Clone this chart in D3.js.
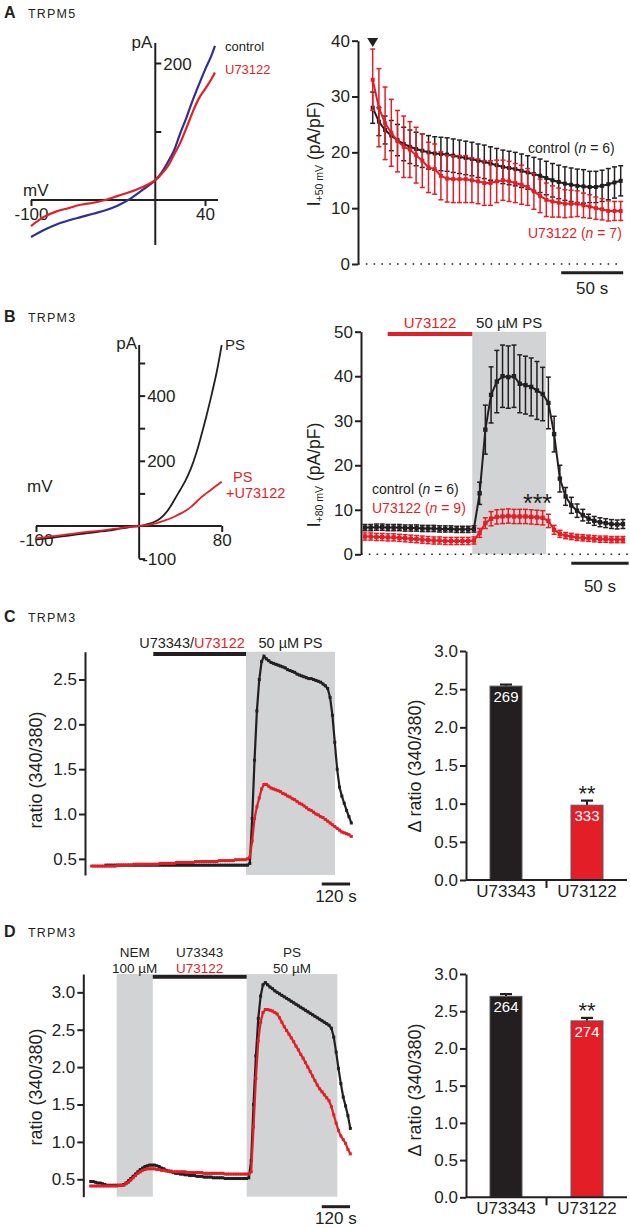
<!DOCTYPE html>
<html><head><meta charset="utf-8">
<script src="https://cdn.jsdelivr.net/npm/d3@7"></script>
<style>body{margin:0;background:#fff} svg{display:block}</style>
</head><body><svg id="fig" width="630" height="1228"></svg>
<script>
// ---------------- DATA ----------------
// Panel A left: TRPM5 I-V (mV, pA)
const ivA_mV = [-100,-90,-80,-70,-60,-50,-40,-30,-20,-10,0,5,10,15,20,25,30,35,40,45,48];
const ivA_control = [-54,-44,-36,-30,-25,-20,-15,-8,2,15,29,40,55,72,97,120,145,168,190,210,225];
const ivA_u73122  = [-38,-25,-17,-12,-7,-4,0,6,12,19,29,38,49,66,83,105,128,148,162,176,186];

// Panel A right: I+50mV time course (s, pA/pF)
const tA = [0,5,10,15,20,25,30,35,40,45,50,55,60,65,70,75,80,85,90,95,100,105,110,115,120,125,130,135,140,145,150,155,160,165,170,175,180,185,190,195,200];
const A_control = [28,25.5,24,23,22.2,21.5,21,20.6,20.3,20,19.8,19.7,19.6,19.4,19.2,19,18.8,18.5,18.3,18,17.7,17.4,17.2,17,16.7,16.4,16.1,15.8,15.4,15,14.7,14.4,14.2,14,13.9,13.8,13.8,14,14.3,14.6,14.9];
const A_controlErr = [2.8,2.5,2.5,2.7,2.8,3,3,3,3,3,3,3,3,3,3,3,3,3,3,3,3,3,3,3,3,3,3,3,3,3,3,3,3,3,3,2.8,2.8,2.8,2.8,2.8,2.7];
const A_u73122 = [33,28,25.2,23.5,22,21,20.5,19.5,18.5,17.3,17,15.8,15.3,15.2,15.2,15.2,15,14.8,14.5,14.5,14.8,15,14.8,14.5,14.2,13.8,13,12.2,11.5,11.2,11,10.8,10.8,10.8,10.5,10.3,10,9.8,9.5,9.5,9.5];
const A_u73122Err = [5.5,7,6.5,6,5.5,5.5,5,5,4.8,4.5,4.5,4.3,4.2,4.2,4.2,4.2,4,4,4,4,3.8,3.6,3.6,3.5,3.5,3.3,3.2,3,3,2.8,2.6,2.5,2.4,2.3,2.2,2.1,2,1.9,1.8,1.7,1.7];

// Panel B left: TRPM3 I-V (mV, pA)
const ivB_mV = [-100,-90,-80,-70,-60,-50,-40,-30,-20,-10,0,5,10,15,20,25,30,35,40,45,50,55,60,65,70,75,80];
const ivB_PS  = [-42,-38,-34,-30,-26,-22,-18,-14,-9,-4,0,3,7,13,22,37,58,85,112,140,175,220,275,335,400,470,555];
const ivB_PSU = [-38,-34,-30,-26,-22,-18,-15,-11,-7,-3,0,2,4,7,12,17,23,30,38,47,58,72,88,100,112,124,136];

// Panel B right: I+80mV time course (s, pA/pF)
const tB = [0,5,10,15,20,25,30,35,40,45,50,55,60,65,70,75,80,85,90,95,100,105,110,115,120,125,130,135,140,145,150,155,160,165,170,175,180,185,190,195,200,205,210,215,220,225];
const B_control = [6.0,6.0,6.1,6.1,6.0,6.0,6.0,5.9,5.9,5.9,5.8,5.8,5.8,5.7,5.7,5.7,5.6,5.6,5.6,5.7,13.7,28,35.8,38.8,40,39.8,40,38.3,38,37.6,36.8,36,34,27,17,13,11,9.8,8.8,8,7.5,7.2,7,6.8,6.7,6.8];
const B_controlErr = [0.7,0.7,0.7,0.7,0.7,0.7,0.7,0.7,0.7,0.7,0.7,0.7,0.7,0.7,0.7,0.7,0.7,0.7,0.7,0.7,2.5,5.5,6.3,7,7,7,7,6.5,6.5,6.5,6.5,6,5.8,4,3,2,1.8,1.5,1.3,1,1,1,1,1,1,1];
const B_u73122 = [4.0,4.0,3.9,3.9,3.8,3.8,3.7,3.6,3.5,3.4,3.3,3.2,3.1,3.1,3.0,3.0,3.0,3.0,3.0,3.1,4.8,7.0,8.0,8.4,8.5,8.6,8.5,8.5,8.5,8.4,8.3,8.2,7.5,5.5,4.6,4.2,4.0,3.8,3.7,3.6,3.5,3.4,3.4,3.3,3.3,3.3];
const B_u73122Err = [0.8,0.8,0.8,0.8,0.8,0.8,0.8,0.8,0.8,0.8,0.8,0.8,0.8,0.8,0.8,0.8,0.8,0.8,0.8,0.8,1,1.2,1.6,1.6,1.6,1.6,1.6,1.6,1.6,1.6,1.6,1.6,1.5,1,0.8,0.7,0.7,0.7,0.7,0.7,0.7,0.7,0.7,0.7,0.7,0.7];

// Panels C and D: Fura-2 ratio time courses (s, ratio 340/380)
const tCD = [0,10,20,30,40,50,60,70,80,90,100,110,120,130,140,150,160,170,180,190,200,210,220,230,240,250,260,270,280,290,300,310,320,330,340,350,360,370,380,390,400,410,420,430,440,450,460,470,480,490,500,510,520,530,540,550,560,570,580,590,600,610,620,630,640,650,660,670,680,690,700,710,720,730,740,750,760,770,780,790,800,810,820,830,840,850,860,870,880,890,900,910,920,930,940,950,960,970,980,990,1000,1010,1020,1030,1040,1050,1060,1070,1080,1090,1100];
const C_U73343 = [null,null,null,null,null,null,0.43,0.43,0.43,0.43,0.43,0.43,0.43,0.43,0.43,0.43,0.43,0.43,0.43,0.43,0.43,0.43,0.43,0.43,0.43,0.43,0.43,0.43,0.43,0.43,0.43,0.43,0.43,0.43,0.43,0.43,0.43,0.43,0.43,0.43,0.43,0.43,0.43,0.43,0.43,0.43,0.43,0.43,0.43,0.43,0.43,0.43,0.43,0.43,0.43,0.43,0.43,0.43,0.43,0.43,0.43,0.43,0.43,0.43,0.43,0.43,0.43,0.45,0.95,1.6,2.15,2.5,2.7,2.76,2.73,2.71,2.69,2.68,2.67,2.66,2.65,2.64,2.63,2.61,2.6,2.59,2.58,2.56,2.55,2.54,2.53,2.52,2.51,2.51,2.5,2.49,2.48,2.47,2.45,2.43,2.4,2.3,2.1,1.8,1.5,1.3,1.2,1.12,1.04,0.97,0.9];
const C_U73122 = [0.42,0.42,0.42,0.42,0.42,0.42,0.42,0.42,0.42,0.42,0.42,0.43,0.43,0.43,0.43,0.43,0.43,0.43,0.44,0.44,0.44,0.44,0.44,0.44,0.44,0.44,0.44,0.44,0.44,0.45,0.45,0.45,0.45,0.45,0.45,0.45,0.46,0.46,0.46,0.46,0.46,0.46,0.46,0.46,0.47,0.47,0.47,0.47,0.47,0.47,0.47,0.47,0.47,0.47,0.48,0.48,0.48,0.48,0.48,0.48,0.48,0.49,0.49,0.49,0.49,0.49,0.5,0.52,0.7,0.95,1.08,1.18,1.28,1.33,1.33,1.31,1.29,1.28,1.27,1.26,1.25,1.23,1.22,1.2,1.19,1.17,1.16,1.14,1.12,1.11,1.09,1.07,1.05,1.04,1.02,1.0,0.99,0.97,0.96,0.94,0.92,0.9,0.88,0.86,0.84,0.82,0.8,0.79,0.78,0.77,0.75];
const D_U73343 = [0.47,0.47,0.46,0.45,0.45,0.44,0.43,0.42,0.42,0.42,0.42,0.42,0.42,0.42,0.43,0.45,0.48,0.51,0.54,0.57,0.6,0.63,0.65,0.67,0.68,0.69,0.69,0.69,0.68,0.67,0.65,0.64,0.62,0.61,0.6,0.59,0.58,0.58,0.57,0.57,0.56,0.56,0.55,0.55,0.55,0.54,0.54,0.54,0.53,0.53,0.53,0.53,0.52,0.52,0.52,0.52,0.52,0.51,0.51,0.51,0.51,0.51,0.51,0.51,0.51,0.51,0.51,0.52,0.75,1.5,2.15,2.65,2.95,3.1,3.13,3.1,3.07,3.05,3.02,3.0,2.98,2.96,2.94,2.92,2.9,2.88,2.86,2.84,2.82,2.8,2.78,2.76,2.74,2.72,2.7,2.68,2.66,2.64,2.62,2.6,2.58,2.56,2.52,2.4,2.2,1.98,1.78,1.6,1.48,1.35,1.18];
const D_U73122 = [0.41,0.41,0.41,0.41,0.41,0.41,0.41,0.41,0.41,0.41,0.41,0.41,0.42,0.42,0.42,0.44,0.46,0.49,0.52,0.55,0.58,0.6,0.62,0.63,0.64,0.64,0.64,0.64,0.63,0.63,0.62,0.62,0.61,0.61,0.61,0.6,0.6,0.6,0.6,0.6,0.6,0.59,0.59,0.59,0.59,0.59,0.59,0.59,0.58,0.58,0.58,0.58,0.58,0.58,0.58,0.58,0.58,0.57,0.57,0.57,0.57,0.57,0.57,0.57,0.57,0.57,0.57,0.57,0.6,1.2,1.85,2.35,2.6,2.73,2.77,2.77,2.76,2.75,2.73,2.71,2.66,2.6,2.54,2.49,2.44,2.39,2.34,2.28,2.23,2.17,2.12,2.06,2.0,1.94,1.88,1.82,1.76,1.71,1.67,1.63,1.59,1.55,1.47,1.36,1.25,1.15,1.08,1.03,0.98,0.9,0.84];

// Bar charts: delta ratio (mean, sem, n)
const barCats = ["U73343","U73122"];
const C_bar = [2.54, 0.98];
const C_barErr = [0.02, 0.06];
const C_barN = ["269","333"];
const D_bar = [2.70, 2.37];
const D_barErr = [0.03, 0.04];
const D_barN = ["264","274"];

// ---------------- DRAWING ----------------
const FONT = '"Liberation Sans", Arial, Helvetica, sans-serif';
const RED = "#e31e26", BLK = "#231f20", BLUE = "#2e3192", GRAY = "#d1d3d4";
const svg = d3.select("#fig").style("font-family", FONT);
svg.append("rect").attr("width",630).attr("height",1228).attr("fill","#fff");

function text(x, y, s, o = {}) {
  const t = svg.append("text").attr("x", x).attr("y", y)
    .attr("font-size", o.size || 14).attr("fill", o.fill || BLK)
    .attr("text-anchor", o.anchor || "start").attr("font-weight", o.weight || "normal");
  if (o.ls) t.attr("letter-spacing", o.ls);
  if (o.rotate) t.attr("transform", `rotate(-90 ${x} ${y})`);
  if (typeof s === "string") t.text(s);
  else s.forEach(p => { const sp = t.append("tspan").text(p.t);
    if (p.fill) sp.attr("fill", p.fill); if (p.italic) sp.attr("font-style","italic");
    if (p.size) sp.attr("font-size", p.size); if (p.dy) sp.attr("dy", p.dy); });
  return t;
}
function styleAxis(g, fs = 17) {
  g.selectAll("path.domain").attr("stroke", BLK).attr("stroke-width", 2);
  g.selectAll(".tick line").attr("stroke", BLK).attr("stroke-width", 2);
  g.selectAll(".tick text").attr("font-size", fs).attr("font-family", FONT).attr("fill", BLK);
}
function hline(x1, x2, y, w = 2, c = BLK) {
  return svg.append("line").attr("x1", x1).attr("x2", x2).attr("y1", y).attr("y2", y).attr("stroke", c).attr("stroke-width", w);
}
function vline(x, y1, y2, w = 2, c = BLK) {
  return svg.append("line").attr("x1", x).attr("x2", x).attr("y1", y1).attr("y2", y2).attr("stroke", c).attr("stroke-width", w);
}
function panelTitle(letter, name, y) {
  text(4, y, letter, {size: 16, weight: "bold"});
  text(28, y, name, {size: 12.5, ls: 1.2});
}

// ===== Panel A left =====
panelTitle("A", "TRPM5", 18);
{
  const x = d3.scaleLinear().domain([-100, 40]).range([31, 205]);
  const y = d3.scaleLinear().domain([0, 200]).range([200, 63]);
  hline(31, 218, y(0));
  vline(x(0), 43, 245);
  const gx = svg.append("g").attr("transform", `translate(0,${y(0)})`)
    .call(d3.axisBottom(x).tickValues([-100, 40]).tickSize(6).tickPadding(2).tickFormat(d => String(d)));
  gx.select(".domain").remove(); styleAxis(gx);
  const gy = svg.append("g").attr("transform", `translate(${x(0)},0)`)
    .call(d3.axisRight(y).tickValues([100, 200]).tickSize(6).tickPadding(2).tickFormat(d => d === 200 ? "200" : ""));
  gy.select(".domain").remove(); styleAxis(gy);
  gy.selectAll(".tick text").attr("dy", "0.36em");
  text(x(0) - 3, 48, "pA", {size: 17, anchor: "end"});
  text(23, 196, "mV", {size: 17});
  const line = d3.line().x((d, i) => x(ivA_mV[i])).y(d => y(d)).curve(d3.curveCatmullRom);
  svg.append("path").attr("d", line(ivA_control)).attr("fill", "none").attr("stroke", BLUE).attr("stroke-width", 2.2);
  svg.append("path").attr("d", line(ivA_u73122)).attr("fill", "none").attr("stroke", RED).attr("stroke-width", 2.2);
  text(225, 51, "control", {size: 13});
  text(225, 74, "U73122", {size: 13, fill: RED});
}

// ===== Panel A right =====
{
  const x = d3.scaleLinear().domain([0, 200]).range([372.7, 620.7]);
  const y = d3.scaleLinear().domain([0, 40]).range([264, 40.7]);
  hline(358, 618, y(0), 1.6).attr("stroke-dasharray", "1.6,6.2");
  const gy = svg.append("g").attr("transform", `translate(358,0)`)
    .call(d3.axisLeft(y).tickValues([0, 10, 20, 30, 40]).tickSize(6).tickPadding(2).tickSizeOuter(0));
  styleAxis(gy);
  text(320, 154, [{t: "I"}, {t: "+50 mV", size: 10.5, dy: 3}, {t: " (pA/pF)", dy: -3}], {size: 17.5, anchor: "middle", rotate: true});
  function series(vals, errs, col) {
    const g = svg.append("g");
    vals.forEach((v, i) => {
      const cx = x(tA[i]);
      g.append("line").attr("x1", cx).attr("x2", cx).attr("y1", y(v - errs[i])).attr("y2", y(v + errs[i])).attr("stroke", col).attr("stroke-width", 1.5);
      [v - errs[i], v + errs[i]].forEach(e => g.append("line").attr("x1", cx - 2.5).attr("x2", cx + 2.5).attr("y1", y(e)).attr("y2", y(e)).attr("stroke", col).attr("stroke-width", 1.5));
    });
    g.append("path").attr("d", d3.line().x((d, i) => x(tA[i])).y(d => y(d))(vals)).attr("fill", "none").attr("stroke", col).attr("stroke-width", 2);
    vals.forEach((v, i) => g.append("rect").attr("x", x(tA[i]) - 2).attr("y", y(v) - 2).attr("width", 4).attr("height", 4).attr("fill", col));
  }
  series(A_control, A_controlErr, BLK);
  series(A_u73122, A_u73122Err, RED);
  const x0 = x(0);
  svg.append("path").attr("d", `M${x0 - 5.5},38 L${x0 + 5.5},38 L${x0},47 Z`).attr("fill", BLK);
  hline(x(152), x(202), 272.7, 3);
  text((x(152) + x(202)) / 2, 294, "50 s", {size: 17, anchor: "middle"});
  text(528, 153, [{t: "control ("}, {t: "n", italic: true}, {t: " = 6)"}], {size: 14});
  text(528, 238, [{t: "U73122 ("}, {t: "n", italic: true}, {t: " = 7)"}], {size: 14, fill: RED});
}

// ===== Panel B left =====
panelTitle("B", "TRPM3", 322);
{
  const x = d3.scaleLinear().domain([-100, 80]).range([36, 221.7]);
  const y = d3.scaleLinear().domain([0, 500]).range([526, 363]);
  hline(36, 221.7, y(0));
  vline(x(0), 345, y(-100));
  const gx = svg.append("g").attr("transform", `translate(0,${y(0)})`)
    .call(d3.axisBottom(x).tickValues([-100, 80]).tickSize(6).tickPadding(2).tickFormat(d => String(d)));
  gx.select(".domain").remove(); styleAxis(gx);
  const gy = svg.append("g").attr("transform", `translate(${x(0)},0)`)
    .call(d3.axisRight(y).tickValues([-100, 100, 200, 300, 400, 500]).tickSize(6).tickPadding(2)
      .tickFormat(d => (d === 200 || d === 400) ? String(d) : ""));
  gy.select(".domain").remove(); styleAxis(gy);
  text(x(0) + 3, y(-100) + 6, "-100", {size: 17, anchor: "start"});
  text(x(0) - 2, 349, "pA", {size: 17, anchor: "end"});
  text(27, 492, "mV", {size: 17});
  const line = d3.line().x((d, i) => x(ivB_mV[i])).y(d => y(d)).curve(d3.curveCatmullRom);
  svg.append("path").attr("d", line(ivB_PS)).attr("fill", "none").attr("stroke", BLK).attr("stroke-width", 1.8);
  svg.append("path").attr("d", line(ivB_PSU)).attr("fill", "none").attr("stroke", RED).attr("stroke-width", 1.8);
  text(225, 350, "PS", {size: 15});
  text(233, 482, "PS", {size: 14.5, fill: RED});
  text(226, 498, "+U73122", {size: 14.5, fill: RED});
}

// ===== Panel B right =====
{
  const x = d3.scaleLinear().domain([0, 225]).range([365, 622.9]);
  const y = d3.scaleLinear().domain([0, 50]).range([554.3, 331.7]);
  svg.append("rect").attr("x", x(93.6)).attr("y", y(50)).attr("width", x(158) - x(93.6)).attr("height", y(0) - y(50)).attr("fill", GRAY);
  hline(361, 628, y(0), 1.6).attr("stroke-dasharray", "1.6,6.2");
  const gy = svg.append("g").attr("transform", `translate(361,0)`)
    .call(d3.axisLeft(y).tickValues([0, 10, 20, 30, 40, 50]).tickSize(6).tickPadding(2).tickSizeOuter(0));
  styleAxis(gy);
  text(320, 475, [{t: "I"}, {t: "+80 mV", size: 10.5, dy: 3}, {t: " (pA/pF)", dy: -3}], {size: 17.5, anchor: "middle", rotate: true});
  hline(x(19.8), x(93.6), 334, 4, RED);
  text((x(19.8) + x(93.6)) / 2, 328, "U73122", {size: 15, fill: RED, anchor: "middle"});
  text((x(93.6) + x(158)) / 2, 328, "50 µM PS", {size: 15, anchor: "middle"});
  function series(vals, errs, col) {
    const g = svg.append("g");
    vals.forEach((v, i) => {
      const cx = x(tB[i]);
      g.append("line").attr("x1", cx).attr("x2", cx).attr("y1", y(v - errs[i])).attr("y2", y(v + errs[i])).attr("stroke", col).attr("stroke-width", 1.5);
      [v - errs[i], v + errs[i]].forEach(e => g.append("line").attr("x1", cx - 2.5).attr("x2", cx + 2.5).attr("y1", y(e)).attr("y2", y(e)).attr("stroke", col).attr("stroke-width", 1.5));
    });
    g.append("path").attr("d", d3.line().x((d, i) => x(tB[i])).y(d => y(d))(vals)).attr("fill", "none").attr("stroke", col).attr("stroke-width", 2);
    vals.forEach((v, i) => g.append("rect").attr("x", x(tB[i]) - 2.2).attr("y", y(v) - 2.2).attr("width", 4.4).attr("height", 4.4).attr("fill", col));
  }
  series(B_control, B_controlErr, BLK);
  series(B_u73122, B_u73122Err, RED);
  text(537.5, 512, "***", {size: 25, anchor: "middle"});
  hline(x(180), x(230), 563.3, 3);
  text((x(180) + x(230)) / 2, 592, "50 s", {size: 17, anchor: "middle"});
  text(372, 494, [{t: "control ("}, {t: "n", italic: true}, {t: " = 6)"}], {size: 14});
  text(372, 513, [{t: "U73122 ("}, {t: "n", italic: true}, {t: " = 9)"}], {size: 14, fill: RED});
}

// ===== Ratio traces helper =====
function ratioPanel(opts) {
  const x = d3.scaleLinear().domain([0, 1100]).range([opts.x0, opts.x0 + 0.236 * 1100]);
  const y = d3.scaleLinear().domain(opts.ydom).range(opts.yrange);
  opts.grays.forEach(gr => svg.append("rect").attr("x", x(gr[0])).attr("y", opts.yrange[1]).attr("width", x(gr[1]) - x(gr[0])).attr("height", opts.yrange[0] - opts.yrange[1]).attr("fill", GRAY));
  const gy = svg.append("g").attr("transform", `translate(${opts.axisX},0)`)
    .call(d3.axisLeft(y).tickValues(opts.ticks).tickFormat(d3.format(".1f")).tickSize(6).tickPadding(2).tickSizeOuter(0));
  styleAxis(gy);
  text(41.5, opts.labelY, "ratio (340/380)", {size: 18, anchor: "middle", rotate: true});
  hline(x(opts.bar[0]), x(opts.bar[1]), opts.barY, 4);
  [[opts.black, BLK], [opts.red, RED]].forEach(([vals, col]) => {
    const ln = d3.line().defined(d => d != null).x((d, i) => x(tCD[i])).y(d => y(d));
    svg.append("path").attr("d", ln(vals)).attr("fill", "none").attr("stroke", col).attr("stroke-width", 2.2);
    vals.forEach((v, i) => { if (v != null) svg.append("rect").attr("x", x(tCD[i]) - 1.5).attr("y", y(v) - 1.5).attr("width", 3).attr("height", 3).attr("fill", col); });
  });
  hline(x(opts.scale[0]), x(opts.scale[1]), opts.scaleY, 3);
  text((x(opts.scale[0]) + x(opts.scale[1])) / 2, opts.scaleY + 17.5, "120 s", {size: 17, anchor: "middle"});
  return x;
}

// ===== Panel C left =====
panelTitle("C", "TRPM3", 622);
{
  const x = ratioPanel({x0: 91.7, axisX: 85, ydom: [0.32, 2.81], yrange: [875, 651.7], ticks: [0.5, 1, 1.5, 2, 2.5],
    grays: [[654, 1031]], bar: [261, 654], barY: 654, black: C_U73343, red: C_U73122, scale: [975, 1095], scaleY: 884, labelY: 770});
  text(192, 648, [{t: "U73343/"}, {t: "U73122", fill: RED}], {size: 14.5, anchor: "middle"});
  text((x(654) + x(1031)) / 2, 648, "50 µM PS", {size: 14.5, anchor: "middle"});
}

// ===== Panel D left =====
panelTitle("D", "TRPM3", 937);
{
  const x = ratioPanel({x0: 90.7, axisX: 83.3, ydom: [0.267, 3.245], yrange: [1196.7, 974], ticks: [0.5, 1, 1.5, 2, 2.5, 3],
    grays: [[110, 263], [661, 1045]], bar: [263, 661], barY: 976.7, black: D_U73343, red: D_U73122, scale: [979, 1099], scaleY: 1206.7, labelY: 1087});
  const l1 = 957, l2 = 972.5, fs = 13.5;
  text((x(110) + x(263)) / 2, l1, "NEM", {size: fs, anchor: "middle"});
  text((x(110) + x(263)) / 2, l2, "100 µM", {size: fs, anchor: "middle"});
  text((x(263) + x(661)) / 2, l1, "U73343", {size: fs, anchor: "middle"});
  text((x(263) + x(661)) / 2, l2, "U73122", {size: fs, anchor: "middle", fill: RED});
  text((x(661) + x(1045)) / 2, l1, "PS", {size: fs, anchor: "middle"});
  text((x(661) + x(1045)) / 2, l2, "50 µM", {size: fs, anchor: "middle"});
}

// ===== Bar charts =====
function barPanel(o) {
  const x = d3.scaleBand().domain(barCats).range([466, 627]).paddingInner(0.605).paddingOuter(0.2965);
  const y = d3.scaleLinear().domain([0, 3]).range(o.yrange);
  const gy = svg.append("g").attr("transform", `translate(466,0)`)
    .call(d3.axisLeft(y).tickValues([0, 0.5, 1, 1.5, 2, 2.5, 3]).tickFormat(d3.format(".1f")).tickSize(6).tickPadding(2).tickSizeOuter(0));
  styleAxis(gy);
  o.vals.forEach((v, i) => {
    const bx = x(barCats[i]), bw = x.bandwidth(), cx = bx + bw / 2;
    const col = i === 0 ? BLK : RED;
    svg.append("line").attr("x1", cx).attr("x2", cx).attr("y1", y(v)).attr("y2", y(v + o.errs[i])).attr("stroke", BLK).attr("stroke-width", 2);
    svg.append("line").attr("x1", cx - 6).attr("x2", cx + 6).attr("y1", y(v + o.errs[i])).attr("y2", y(v + o.errs[i])).attr("stroke", BLK).attr("stroke-width", 2.2);
    svg.append("rect").attr("x", bx).attr("y", y(v)).attr("width", bw).attr("height", y(0) - y(v)).attr("fill", col).attr("stroke", "#58595b").attr("stroke-width", 1);
    text(cx, y(v) + 16, o.ns[i], {size: 15, fill: "#fff", anchor: "middle"});
    if (i === 1) text(cx, y(v + o.errs[i]) + 0.5, "**", {size: 22, anchor: "middle"});
  });
  const gx = svg.append("g").attr("transform", `translate(0,${o.yrange[0]})`)
    .call(d3.axisBottom(x).tickSize(0).tickPadding(5));
  gx.select(".domain").attr("d", `M466,0H627`);
  styleAxis(gx);
  gx.selectAll(".tick text").attr("dy", "0.71em");
  vline((x(barCats[0]) + x(barCats[1]) + x.bandwidth()) / 2, o.yrange[0], o.yrange[0] + 8);
  text(421, o.labelY, "Δ ratio (340/380)", {size: 18, anchor: "middle", rotate: true});
}
barPanel({yrange: [880, 651], vals: C_bar, errs: C_barErr, ns: C_barN, labelY: 766});
barPanel({yrange: [1197.3, 974], vals: D_bar, errs: D_barErr, ns: D_barN, labelY: 1090});
</script></body></html>
